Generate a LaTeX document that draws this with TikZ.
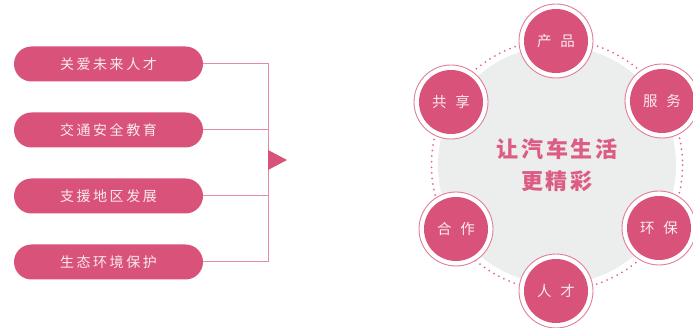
\documentclass[tikz,border=0pt]{standalone}
\usepackage{fontspec}
\newfontfamily\cjkpill[LetterSpace=18]{Noto Sans CJK SC}
\newfontfamily\cjkc{Noto Sans CJK SC}
\newfontfamily\cjkbig[LetterSpace=12]{Noto Sans CJK SC}
\definecolor{pk}{HTML}{D95279}
\definecolor{pkline}{HTML}{E68AA6}
\definecolor{pkring}{HTML}{E07D9B}
\definecolor{pkdot}{HTML}{E2678E}
\definecolor{gr}{HTML}{ECEDED}
\definecolor{ctext}{HTML}{DD5C83}
\definecolor{wtext}{HTML}{FBEAF0}
\tikzset{
  pill/.style={fill=pk, rounded corners=17.5pt, minimum width=189pt, minimum height=35pt, inner sep=0pt, text=wtext, font=\cjkpill\fontsize{14pt}{14pt}\selectfont},
  conn/.style={draw=pkline, line width=1pt},
  ring/.style={circle, draw=pkring, line width=0.9pt, fill=white, minimum size=74pt, inner sep=0pt},
  bub/.style={circle, fill=pk, minimum size=64pt, inner sep=0pt, text=wtext, font=\cjkc\fontsize{14.5pt}{14.5pt}\selectfont},
}
\begin{document}
\begin{tikzpicture}[x=1pt,y=-1pt]
\useasboundingbox (0,0) rectangle (693,328);
% left pills
\node[pill] (p1) at (108.5,64) {关爱未来人才};
\node[pill] (p2) at (108.5,130) {交通安全教育};
\node[pill] (p3) at (108.5,196) {支援地区发展};
\node[pill] (p4) at (108.5,262) {生态环境保护};
\coordinate (v1) at (268,64);
\coordinate (v2) at (268,130);
\coordinate (v3) at (268,196);
\coordinate (v4) at (268,262);
\draw[conn] (p1.east) -- (v1) -- (v4) -- (p4.east);
\draw[conn] (p2.east) -- (v2);
\draw[conn] (p3.east) -- (v3);
\coordinate (ta) at (268,150);
\coordinate (tb) at (268,170);
\coordinate (tc) at (287,160);
\fill[pk] (ta) -- (tc) -- (tb) -- cycle;
% right
\coordinate (cc) at (557,165);
\draw[pkdot, line width=2pt, line cap=round, dash pattern=on 0pt off 5.6pt] (cc) circle[radius=125.5];
\fill[gr] (cc) circle[radius=119];
\node[text=ctext, font=\cjkbig\bfseries\fontsize{22pt}{32pt}\selectfont, align=center] (ct) at (557,165) {让汽车生活\\更精彩};
\foreach \n/\x/\y/\t in {a/556/41/{产\hspace{9pt}品}, b/662/101/{服\hspace{9pt}务}, c/659/228/{环\hspace{9pt}保}, d/556/291/{人\hspace{9pt}才}, e/456/229/{合\hspace{9pt}作}, f/451/102/{共\hspace{9pt}享}}{
  \node[ring] (r\n) at (\x,\y) {};
  \node[bub] (b\n) at (\x,\y) {\t};
}
\end{tikzpicture}
\end{document}
